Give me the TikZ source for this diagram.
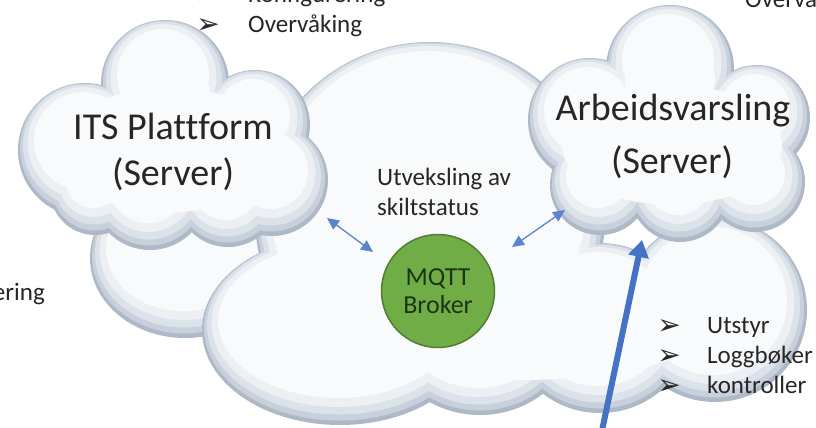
\documentclass[tikz,border=0pt]{standalone}
\usepackage{fontspec}
\setmainfont{Carlito}[Ligatures=NoCommon]
\newfontfamily\symfont{DejaVu Sans}
\usetikzlibrary{arrows.meta}
\definecolor{cA}{HTML}{AEB9C8}
\definecolor{cB}{HTML}{C7D0DB}
\definecolor{cC}{HTML}{DCE2E9}
\definecolor{cD}{HTML}{ECEFF3}
\definecolor{cE}{HTML}{F9FAFB}
\definecolor{txt}{HTML}{262626}
\definecolor{arrowblue}{HTML}{4472C4}
\definecolor{thinblue}{HTML}{5B84CC}
\definecolor{mqttfill}{HTML}{70AD47}
\definecolor{mqttdraw}{HTML}{507E32}
\definecolor{mqtttxt}{HTML}{1C3510}
% #1: bumps x/y/rx/ry, #2: core ellipses x/y/rx/ry
\newcommand\paintcloud[2]{%
  \foreach \sh/\dx/\dy/\col in {0/0/0/cA,2.5/-0.5/-2/cB,6/-1/-4.5/cC,11/-1.5/-7/cD,18/-2/-9/cE}{%
    \foreach \cx/\cy/\rx/\ry in {#1}{%
      \pgfmathsetmacro\rxx{\rx-\sh}\pgfmathsetmacro\ryy{\ry-\sh}%
      \fill[\col] (\cx+\dx,\cy+\dy) ellipse[x radius=\rxx pt, y radius=\ryy pt];
    }}%
  \foreach \cx/\cy/\rx/\ry in {#2}{%
    \fill[cE] (\cx,\cy) ellipse[x radius=\rx pt, y radius=\ry pt];
  }}
\tikzset{
  bigtxt/.style={text=txt, font=\fontsize{38}{46}\selectfont, inner sep=0pt},
  smalltxt/.style={text=txt, font=\fontsize{25}{30}\selectfont, inner sep=0pt},
  bullet/.style={text=txt, font=\symfont\fontsize{28}{30}\selectfont, inner sep=0pt},
  mqttnode/.style={circle, fill=mqttfill, draw=mqttdraw, line width=1.5pt, minimum size=113pt, inner sep=0pt},
  mqtttext/.style={text=mqtttxt, font=\fontsize{26}{28}\selectfont, inner sep=0pt},
  thinarrow/.style={draw=thinblue, line width=1.3pt, {Triangle[length=12pt,width=11pt]}-{Triangle[length=12pt,width=11pt]}},
  thickarrow/.style={draw=arrowblue, line width=6pt, -{Triangle[length=17pt,width=20pt]}}
}
\begin{document}
\begin{tikzpicture}[x=1pt,y=-1pt]
\useasboundingbox (0,0) rectangle (816,428);
\clip (0,0) rectangle (816,428);
\fill[white] (0,0) rectangle (816,428);
% big background cloud
\paintcloud{185/258/95/80}{}
\paintcloud{430/217/175/175,340/330/138/95,480/320/100/95,600/328/90/85,715/310/92/92}{520/320/200/60,430/200/150/120}
% ITS cloud
\paintcloud{165/84/64/64,85/150/67/67,255/125/55/55,272/180/56/56,150/192/58/58,228/195/52/52,95/190/45/45,170/150/80/80}{170/150/115/62,165/95/45/40}
% Arbeidsvarsling cloud
\paintcloud{670/69/64/64,590/120/62/62,757/118/53/53,600/185/50/50,680/192/50/50,755/182/50/50,670/140/70/70}{672/145/110/60,670/80/45/40}
% cloud labels
\node[bigtxt, anchor=base] (its1) at (173,139) {ITS Plattform};
\node[bigtxt, anchor=base] (its2) at (173,185) {(Server)};
\node[bigtxt, anchor=base] (arb1) at (673,120) {Arbeidsvarsling};
\node[bigtxt, anchor=base] (arb2) at (672,173) {(Server)};
% exchange label
\node[smalltxt, anchor=base west] (utv1) at (377,185) {Utveksling av};
\node[smalltxt, anchor=base west] (utv2) at (377,215) {skiltstatus};
% MQTT broker
\node[mqttnode] (mqtt) at (438,291) {};
\node[mqtttext, anchor=base] (mq1) at (438,285) {MQTT};
\node[mqtttext, anchor=base] (mq2) at (438,313) {Broker};
% top-left list
\node[bullet, anchor=base] (b1) at (208,4) {➢};
\node[smalltxt, anchor=base west] (t1) at (248,3) {Konfigurering};
\node[bullet, anchor=base] (b2) at (208,34) {➢};
\node[smalltxt, anchor=base west] (t2) at (248,33) {Overvåking};
% top-right list (cut)
\node[smalltxt, anchor=base west] (t3) at (745,8) {Overvåking};
% left list (cut)
\node[smalltxt, anchor=base east] (t4) at (45,300) {Konfigurering};
% right list
\node[bullet, anchor=base] (b5) at (669,334) {➢};
\node[smalltxt, anchor=base west] (r1) at (707,333) {Utstyr};
\node[bullet, anchor=base] (b6) at (669,364) {➢};
\node[smalltxt, anchor=base west] (r2) at (707,363) {Loggbøker};
\node[bullet, anchor=base] (b7) at (669,394) {➢};
\node[smalltxt, anchor=base west] (r3) at (707,393) {kontroller};
% arrows
\coordinate (itsend) at (327,218);
\coordinate (mqL) at (373,252);
\coordinate (arbend) at (565,210);
\coordinate (mqR) at (512,247);
\coordinate (feed) at (599,445);
\coordinate (arbin) at (642,240);
\draw[thinarrow] (itsend) -- (mqL);
\draw[thinarrow] (arbend) -- (mqR);
\draw[thickarrow] (feed) -- (arbin);
\end{tikzpicture}
\end{document}
